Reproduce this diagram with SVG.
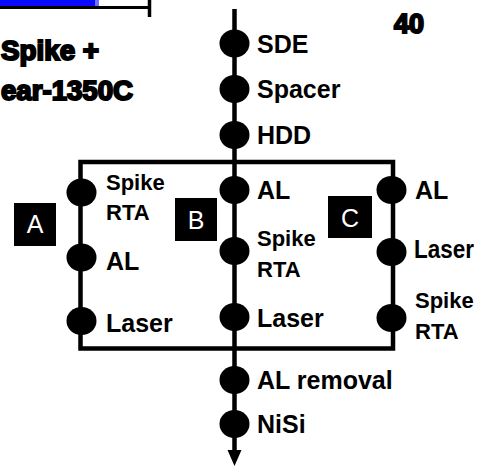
<svg xmlns="http://www.w3.org/2000/svg" width="480" height="466" viewBox="0 0 480 466">
<defs>
<style>
.t{font-family:"Liberation Sans",Arial,sans-serif;font-weight:bold;fill:#000;font-size:25px}
.s{font-size:22px}
.blob{font-family:"Liberation Sans",Arial,sans-serif;font-weight:900;fill:#000;stroke:#000;stroke-width:2;font-size:27px}
.lab{font-family:"Liberation Sans",Arial,sans-serif;fill:#fff;font-size:25px}
.ln{stroke:#000;stroke-width:4.5;fill:none}
.dot{fill:#000}
</style>
</defs>
<rect width="480" height="466" fill="#fff"/>
<!-- top-left fragment -->
<g id="fragment">
<rect x="-2" y="-2" width="99" height="8.5" fill="#0a0aff"/>
<rect x="95" y="-2" width="4" height="8.5" fill="#6f6fff"/>
<line x1="0" y1="7.5" x2="151" y2="7.5" stroke="#000" stroke-width="3"/>
<line x1="149.5" y1="0" x2="149.5" y2="17" stroke="#000" stroke-width="3.5"/>
<text class="blob" x="1" y="60" textLength="98" lengthAdjust="spacingAndGlyphs">Spike +</text>
<text class="blob" x="1" y="100" font-size="28" textLength="132" lengthAdjust="spacingAndGlyphs">ear-1350C</text>
<text class="blob" x="394" y="33" font-size="32" stroke-width="4" textLength="30" lengthAdjust="spacingAndGlyphs">40</text>
</g>
<g id="connectors">
<line class="ln" x1="234.5" y1="9" x2="234.5" y2="452"/>
<polygon points="227.5,450 241.5,450 234.5,466" fill="#000"/>
<rect class="ln" x="80.5" y="162" width="312.5" height="186.5" stroke-width="4"/>
</g>
<g id="main-steps">
<g id="n-sde"><ellipse class="dot" cx="234.5" cy="43.5" rx="15" ry="14"/><text class="t" x="257" y="53">SDE</text></g>
<g id="n-spacer"><ellipse class="dot" cx="234.5" cy="89" rx="15" ry="14"/><text class="t" x="257" y="98">Spacer</text></g>
<g id="n-hdd"><ellipse class="dot" cx="234.5" cy="135" rx="15" ry="14"/><text class="t" x="257" y="144">HDD</text></g>
<g id="n-alrem"><ellipse class="dot" cx="234.5" cy="380" rx="15" ry="14"/><text class="t" x="257" y="389">AL removal</text></g>
<g id="n-nisi"><ellipse class="dot" cx="234.5" cy="424" rx="15" ry="14"/><text class="t" x="257" y="433">NiSi</text></g>
</g>
<g id="route-a">
<g id="label-a"><rect x="14" y="203" width="42" height="43" fill="#000"/><text class="lab" x="35" y="233" text-anchor="middle">A</text></g>
<g id="a-spike"><ellipse class="dot" cx="81.5" cy="192.5" rx="15" ry="14"/><text class="t s" x="106" y="190">Spike</text><text class="t s" x="106" y="220">RTA</text></g>
<g id="a-al"><ellipse class="dot" cx="81.5" cy="257.5" rx="15" ry="14"/><text class="t" x="106" y="270">AL</text></g>
<g id="a-laser"><ellipse class="dot" cx="81.5" cy="321" rx="15" ry="14"/><text class="t" x="106" y="332">Laser</text></g>
</g>
<g id="route-b">
<g id="label-b"><rect x="175" y="198" width="42" height="43" fill="#000"/><text class="lab" x="196" y="229" text-anchor="middle">B</text></g>
<g id="b-al"><ellipse class="dot" cx="234.5" cy="190" rx="15" ry="14"/><text class="t" x="257" y="199">AL</text></g>
<g id="b-spike"><ellipse class="dot" cx="234.5" cy="251" rx="15" ry="14"/><text class="t s" x="257" y="246">Spike</text><text class="t s" x="257" y="277">RTA</text></g>
<g id="b-laser"><ellipse class="dot" cx="234.5" cy="317" rx="15" ry="14"/><text class="t" x="257" y="327">Laser</text></g>
</g>
<g id="route-c">
<g id="label-c"><rect x="328" y="196" width="44" height="42" fill="#000"/><text class="lab" x="350" y="227" text-anchor="middle">C</text></g>
<g id="c-al"><ellipse class="dot" cx="391.5" cy="190" rx="15" ry="14"/><text class="t" x="415" y="199">AL</text></g>
<g id="c-laser"><ellipse class="dot" cx="391.5" cy="252" rx="15" ry="14"/><text class="t" x="414" y="258" font-size="23" textLength="60" lengthAdjust="spacingAndGlyphs">Laser</text></g>
<g id="c-spike"><ellipse class="dot" cx="391.5" cy="318" rx="15" ry="14"/><text class="t s" x="415" y="308">Spike</text><text class="t s" x="415" y="339">RTA</text></g>
</g>
</svg>
